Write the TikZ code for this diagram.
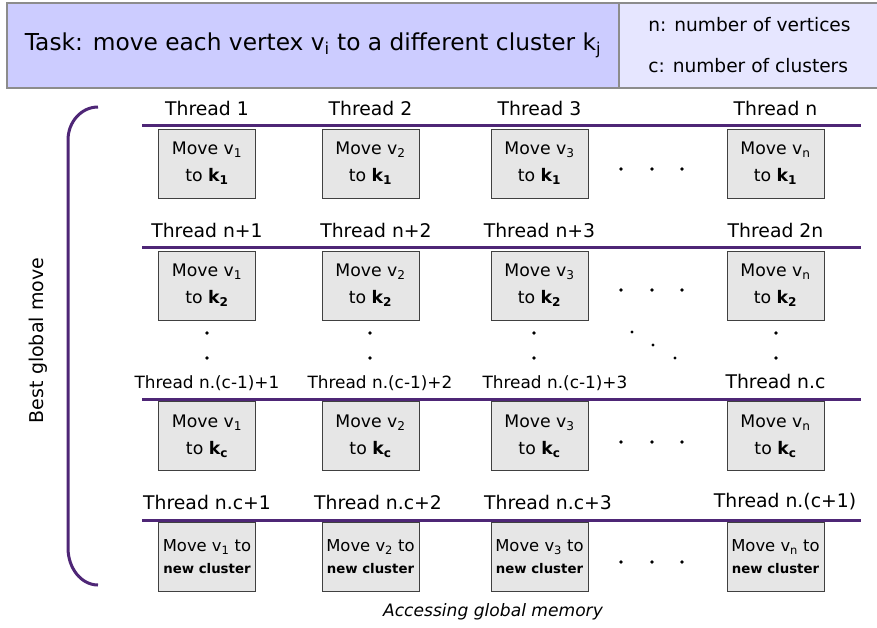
\documentclass[tikz,border=0pt]{standalone}
\usepackage{fontspec}
\setmainfont{DejaVu Sans}
\definecolor{rowpurple}{RGB}{78,38,118}
\definecolor{taskblue}{RGB}{204,204,255}
\definecolor{legendblue}{RGB}{230,230,255}
\definecolor{boxgray}{RGB}{230,230,230}

\begin{document}
\begin{tikzpicture}[x=1pt,y=-1pt,node distance=163.5pt,semithick]
  \tikzstyle{movebox}=[draw=black!75,fill=boxgray,minimum width=97pt,minimum height=69pt,
                       inner sep=0pt,align=center,font=\fontsize{17.3}{27}\selectfont]
  \tikzstyle{newbox}=[movebox,font=\fontsize{16.4}{22}\selectfont]
  \tikzstyle{thread}=[inner sep=0pt,text height=14pt,text depth=4pt,font=\fontsize{18.8}{22}\selectfont]
  \tikzstyle{smallthread}=[thread,font=\fontsize{16.9}{20}\selectfont]
  \tikzstyle{rowline}=[draw=rowpurple,line width=3pt]
  \tikzstyle{header}=[draw=black!45,line width=1.5pt,inner sep=0pt,minimum height=85pt]

  \useasboundingbox (0,0) rectangle (877,628);

  % header
  \node[header,fill=taskblue,minimum width=612pt] (task) at (313,45.5)
       {\fontsize{23.3}{27}\selectfont Task: move each vertex v\textsubscript{i} to a different cluster k\textsubscript{j}};
  \node[header,fill=legendblue,minimum width=261pt,align=left,font=\fontsize{18.6}{41}\selectfont]
       (legend) at (749.5,45.5) {n: number of vertices\\c: number of clusters};

  % row 1
  \node[movebox] (A1) at (207,163.5)           {Move v\textsubscript{1}\\to \textbf{k\textsubscript{1}}};
  \node[movebox] (B1) [right of=A1]             {Move v\textsubscript{2}\\to \textbf{k\textsubscript{1}}};
  \node[movebox] (C1) [node distance=169pt,right of=B1] {Move v\textsubscript{3}\\to \textbf{k\textsubscript{1}}};
  \node[movebox] (N1) [node distance=236pt,right of=C1] {Move v\textsubscript{n}\\to \textbf{k\textsubscript{1}}};

  % row 2
  \node[movebox] (A2) at (207,285.5)           {Move v\textsubscript{1}\\to \textbf{k\textsubscript{2}}};
  \node[movebox] (B2) [right of=A2]             {Move v\textsubscript{2}\\to \textbf{k\textsubscript{2}}};
  \node[movebox] (C2) [node distance=169pt,right of=B2] {Move v\textsubscript{3}\\to \textbf{k\textsubscript{2}}};
  \node[movebox] (N2) [node distance=236pt,right of=C2] {Move v\textsubscript{n}\\to \textbf{k\textsubscript{2}}};

  % row 3
  \node[movebox] (A3) at (207,436)             {Move v\textsubscript{1}\\to \textbf{k\textsubscript{c}}};
  \node[movebox] (B3) [right of=A3]             {Move v\textsubscript{2}\\to \textbf{k\textsubscript{c}}};
  \node[movebox] (C3) [node distance=169pt,right of=B3] {Move v\textsubscript{3}\\to \textbf{k\textsubscript{c}}};
  \node[movebox] (N3) [node distance=236pt,right of=C3] {Move v\textsubscript{n}\\to \textbf{k\textsubscript{c}}};

  % row 4
  \node[newbox] (A4) at (207,557)              {Move v\textsubscript{1} to\\{\bfseries\fontsize{13.3}{16}\selectfont new cluster}};
  \node[newbox] (B4) [right of=A4]              {Move v\textsubscript{2} to\\{\bfseries\fontsize{13.3}{16}\selectfont new cluster}};
  \node[newbox] (C4) [node distance=169pt,right of=B4] {Move v\textsubscript{3} to\\{\bfseries\fontsize{13.3}{16}\selectfont new cluster}};
  \node[newbox] (N4) [node distance=236pt,right of=C4] {Move v\textsubscript{n} to\\{\bfseries\fontsize{13.3}{16}\selectfont new cluster}};

  % thread labels
  \node[thread] (tA1) [node distance=53pt,above of=A1] {Thread 1};
  \node[thread] (tB1) [node distance=53pt,above of=B1] {Thread 2};
  \node[thread] (tC1) [node distance=53pt,above of=C1] {Thread 3};
  \node[thread] (tN1) [node distance=53pt,above of=N1] {Thread n};
  \node[thread] (tA2) [node distance=53pt,above of=A2] {Thread n+1};
  \node[thread] (tB2) [node distance=53pt,above of=B2,xshift=5.5pt] {Thread n+2};
  \node[thread] (tC2) [node distance=53pt,above of=C2] {Thread n+3};
  \node[thread] (tN2) [node distance=53pt,above of=N2] {Thread 2n};
  \node[smallthread] (tA3) [node distance=53pt,above of=A3] {Thread n.(c-1)+1};
  \node[smallthread] (tB3) [node distance=53pt,above of=B3,xshift=9.5pt] {Thread n.(c-1)+2};
  \node[smallthread] (tC3) [node distance=53pt,above of=C3,xshift=15.5pt] {Thread n.(c-1)+3};
  \node[thread] (tN3) [node distance=53pt,above of=N3] {Thread n.c};
  \node[thread] (tA4) [node distance=53pt,above of=A4] {Thread n.c+1};
  \node[thread] (tB4) [node distance=53pt,above of=B4,xshift=7.5pt] {Thread n.c+2};
  \node[thread] (tC4) [node distance=53pt,above of=C4,xshift=8.5pt] {Thread n.c+3};
  \node[thread] (tN4) [node distance=55pt,above of=N4,xshift=9.5pt] {Thread n.(c+1)};

  % row separators
  \draw[rowline] (142,126) -- (861,126);
  \draw[rowline] (142,247) -- (861,247);
  \draw[rowline] (142,399) -- (861,399);
  \draw[rowline] (142,520) -- (861,520);

  % dots
  \fill (621,169) circle (1.9pt) (652,169) circle (1.9pt) (682,169) circle (1.9pt);
  \fill (621,290) circle (1.9pt) (652,290) circle (1.9pt) (682,290) circle (1.9pt);
  \fill (621,442) circle (1.9pt) (652,442) circle (1.9pt) (682,442) circle (1.9pt);
  \fill (621,562) circle (1.9pt) (652,562) circle (1.9pt) (682,562) circle (1.9pt);
  \fill (207,333) circle (1.9pt) (207,358) circle (1.9pt);
  \fill (370,333) circle (1.9pt) (370,358) circle (1.9pt);
  \fill (534,333) circle (1.9pt) (534,358) circle (1.9pt);
  \fill (776,333) circle (1.9pt) (776,358) circle (1.9pt);
  \fill (632,332) circle (1.6pt) (653,345) circle (1.6pt) (675,358) circle (1.6pt);

  % bracket
  \draw[rowpurple,line width=3pt] (98,107) .. controls (81.4,107) and (68,121.8) .. (68,140)
       -- (68,548) .. controls (68,568.4) and (81.4,585) .. (98,585);
  \node[rotate=90,font=\fontsize{19}{22}\selectfont] (best) at (38,340.5) {Best global move};

  \node[font=\itshape\fontsize{17.1}{20}\selectfont] (access) at (493,612) {Accessing global memory};
\end{tikzpicture}
\end{document}
